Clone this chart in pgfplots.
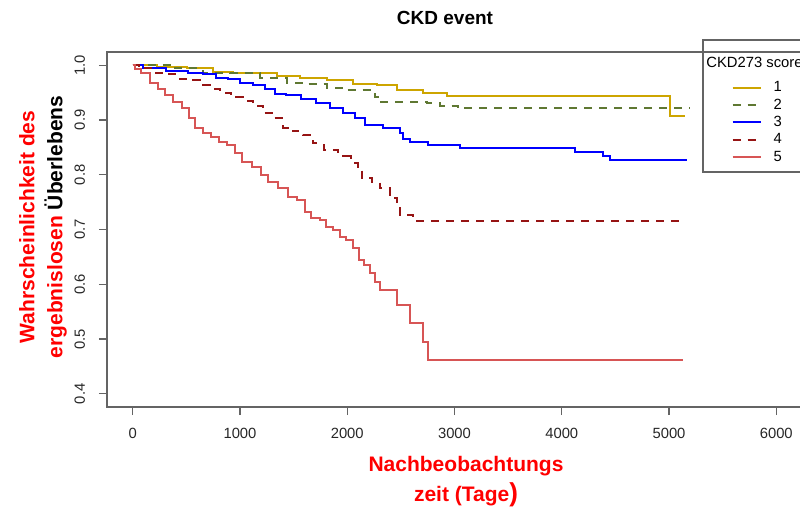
\documentclass[border=0pt]{standalone}
\usepackage{fontspec}
\setmainfont{Liberation Sans}
\usepackage{pgfplots}
\pgfplotsset{compat=1.18}
\definecolor{c1}{RGB}{205,165,0}
\definecolor{c2}{RGB}{95,120,50}
\definecolor{c3}{RGB}{0,0,255}
\definecolor{c4}{RGB}{150,20,20}
\definecolor{c5}{RGB}{215,85,85}
\definecolor{frame}{RGB}{100,100,100}
\begin{document}
\begin{tikzpicture}
\useasboundingbox (0,0) rectangle (400pt,258pt);
\clip (0,0) rectangle (400pt,258pt);
\begin{axis}[
 at={(53.5pt,54.5pt)},anchor=south west,
 width=347.5pt,height=177.5pt,scale only axis,
 xmin=-240,xmax=6240,ymin=0.376,ymax=1.024,
 xtick={0,1000,2000,3000,4000,5000,6000},
 ytick={0.4,0.5,0.6,0.7,0.8,0.9,1.0},
 axis line style={frame,line width=0.6pt},
 tick style={frame,line width=0.6pt},
 tick align=outside,major tick length=4pt,tick pos=left,
 tick label style={font=\fontsize{7.4}{8}\selectfont,text=black!85},
 /pgf/number format/assume math mode=true,
 xticklabel style={/pgf/number format/1000 sep={},yshift=-3pt},
 yticklabel style={rotate=90,anchor=south,yshift=3.5pt,
   /pgf/number format/fixed,/pgf/number format/precision=1,/pgf/number format/fixed zerofill},
 legend style={at={(axis description cs:0.898,0.925)},anchor=north west,draw=none,fill=none,
   font=\fontsize{7.4}{8}\selectfont,inner sep=0pt,row sep=0pt,column sep=6pt,
   nodes={inner sep=0pt,text height=6.4pt,text depth=2.25pt}},
 legend cell align=left,
 legend image code/.code={\draw[#1] (0pt,0pt) -- (14pt,0pt);},
]
\addplot[c1,line width=1pt,const plot] coordinates {(0,1)(224,0.997)(504,0.994)(746,0.988)(933,0.986)(1157,0.985)(1343,0.981)(1558,0.977)(1810,0.972)(2052,0.966)(2276,0.963)(2463,0.955)(2705,0.950)(2929,0.943)(5010,0.908)(5150,0.908)};
\addlegendentry{1}
\addplot[c2,line width=1pt,const plot,dash pattern=on 4pt off 3.5pt] coordinates {(0,1)(345,0.994)(653,0.986)(905,0.985)(1185,0.977)(1437,0.968)(1623,0.965)(1810,0.959)(1996,0.954)(2211,0.948)(2257,0.941)(2285,0.932)(2743,0.930)(2864,0.925)(3032,0.921)(5196,0.921)};
\addlegendentry{2}
\addplot[c3,line width=1pt,const plot mark mid] coordinates {(0,1)(187,0.995)(438,0.990)(597,0.986)(718,0.983)(840,0.977)(933,0.974)(1063,0.968)(1185,0.963)(1278,0.957)(1371,0.948)(1493,0.945)(1651,0.939)(1772,0.930)(1903,0.921)(2024,0.912)(2118,0.903)(2211,0.890)};
\addlegendentry{3}
\addplot[c3,line width=1pt,const plot,forget plot] coordinates {(2211,0.890)(2332,0.885)(2491,0.877)(2519,0.866)(2584,0.859)(2752,0.854)(3050,0.848)(4123,0.841)(4384,0.834)(4450,0.826)(5168,0.826)};
\addplot[c4,line width=1pt,const plot mark mid,dash pattern=on 4pt off 3.5pt] coordinates {(0,1)(112,0.994)(271,0.986)(392,0.983)(485,0.975)(578,0.972)(672,0.963)(765,0.957)(858,0.950)(979,0.941)(1073,0.935)(1166,0.926)(1259,0.912)(1353,0.903)(1446,0.886)(1539,0.879)(1632,0.872)(1726,0.857)(1838,0.845)(1996,0.835)};
\addlegendentry{4}
\addplot[c4,line width=1pt,const plot,dash pattern=on 4pt off 3.5pt,forget plot] coordinates {(1996,0.835)(2034,0.821)(2099,0.814)(2136,0.794)(2229,0.786)(2304,0.775)(2397,0.757)(2463,0.741)(2491,0.726)(2612,0.715)(5130,0.715)};
\addplot[c5,line width=1pt,const plot mark mid] coordinates {(0,1)(40,0.993)(112,0.986)(205,0.968)(271,0.957)(326,0.945)(420,0.932)(504,0.921)(550,0.903)(606,0.886)(700,0.877)(765,0.868)(840,0.859)(923,0.854)(979,0.839)(1063,0.823)(1157,0.814)(1231,0.799)(1297,0.786)(1418,0.775)(1483,0.759)(1576,0.754)(1632,0.732)(1698,0.721)(1791,0.717)(1819,0.705)(1912,0.699)(1959,0.686)(2024,0.681)(2090,0.666)(2136,0.645)(2183,0.635)(2239,0.621)(2285,0.605)(2332,0.590)};
\addlegendentry{5}
\addplot[c5,line width=1pt,const plot,forget plot] coordinates {(2332,0.590)(2463,0.563)(2584,0.530)(2705,0.495)(2752,0.461)(5130,0.461)};
\end{axis}
% legend frame and title
\draw[frame,line width=0.6pt] (351.5pt,238pt) rectangle (410pt,172pt);
\node[anchor=west,inner sep=0pt,font=\fontsize{7.4}{8}\selectfont] at (353pt,227pt) {CKD273 score};
% title
\node[font=\fontsize{9.5}{11}\selectfont\bfseries] at (222.5pt,249pt) {CKD event};
% axis labels
\node[font=\fontsize{10.5}{12}\selectfont\bfseries,text=red,align=center] at (233pt,17pt) {Nachbeobachtungs\\[3pt]zeit (Tage{\fontsize{13}{12}\selectfont)}};
\node[font=\fontsize{10.5}{14}\selectfont\bfseries,text=red,align=center,rotate=90] at (21.5pt,144.5pt) {Wahrscheinlichkeit des\\ergebnislosen \textcolor{black}{Überlebens}};
\end{tikzpicture}
\end{document}
